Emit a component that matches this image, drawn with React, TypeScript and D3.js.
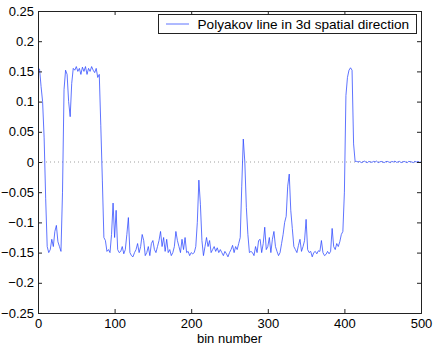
import React, { useEffect, useRef } from "react";
import * as d3 from "d3";

// polyakov line value, sampled every 2 bins (bin 0, 2, 4 ... 500)
const binStep = 2;
const polyakov = [
  0.155, 0.154, 0.125, 0.1, 0.04, -0.06, -0.14, -0.15, -0.145, -0.128,
  -0.14, -0.115, -0.105, -0.132, -0.14, -0.148, -0.05, 0.12, 0.152, 0.145,
  0.1, 0.075, 0.13, 0.155, 0.152, 0.158, 0.15, 0.155, 0.145, 0.157,
  0.15, 0.158, 0.145, 0.155, 0.15, 0.158, 0.152, 0.148, 0.155, 0.14,
  0.145, 0.06, -0.03, -0.125, -0.13, -0.148, -0.145, -0.15, -0.12, -0.068,
  -0.125, -0.08, -0.145, -0.15, -0.148, -0.14, -0.152, -0.145, -0.12, -0.092,
  -0.15, -0.155, -0.157, -0.15, -0.145, -0.135, -0.15, -0.14, -0.12, -0.13,
  -0.155, -0.15, -0.14, -0.155, -0.135, -0.13, -0.145, -0.15, -0.14, -0.13,
  -0.115, -0.14, -0.125, -0.148, -0.128, -0.15, -0.145, -0.155, -0.15, -0.14,
  -0.115, -0.13, -0.14, -0.15, -0.128, -0.145, -0.125, -0.15, -0.148, -0.155,
  -0.15, -0.152, -0.15, -0.14, -0.1, -0.03, -0.07, -0.13, -0.155, -0.14,
  -0.125, -0.14, -0.13, -0.15, -0.145, -0.14, -0.148, -0.142, -0.15, -0.145,
  -0.15, -0.155, -0.148, -0.152, -0.157, -0.15, -0.145, -0.138, -0.15, -0.14,
  -0.145, -0.135, -0.125, -0.04, 0.038, 0.0, -0.075, -0.12, -0.15, -0.148,
  -0.15, -0.155, -0.14, -0.15, -0.13, -0.128, -0.15, -0.135, -0.108, -0.145,
  -0.14, -0.125, -0.15, -0.128, -0.115, -0.14, -0.148, -0.155, -0.15, -0.135,
  -0.12, -0.1, -0.09, -0.04, -0.02, -0.08, -0.11, -0.14, -0.145, -0.15,
  -0.138, -0.128, -0.148, -0.14, -0.13, -0.095, -0.145, -0.15, -0.148, -0.157,
  -0.15, -0.148, -0.152, -0.147, -0.148, -0.13, -0.15, -0.155, -0.153, -0.148,
  -0.152, -0.148, -0.11, -0.14, -0.145, -0.135, -0.14, -0.132, -0.12, -0.115,
  -0.05, 0.11, 0.14, 0.152, 0.156, 0.152, 0.03, 0.001, 0.001, 0.0,
  0.001, -0.001, 0.0, 0.0015, 0.0, -0.001, 0.001, 0.0, -0.0005, 0.001,
  0.0, 0.0015, -0.001, 0.0, 0.001, 0.0, -0.001, 0.0005, 0.001, 0.0,
  -0.001, 0.001, 0.0, 0.0015, -0.0005, 0.0, 0.001, -0.001, 0.0, 0.001,
  0.0, -0.001, 0.001, 0.0005, 0.0, -0.001, 0.001, 0.0, 0.001, -0.0005,
  0.0
];

const xTicks = [0, 100, 200, 300, 400, 500];
const yTicks = [-0.25, -0.2, -0.15, -0.1, -0.05, 0, 0.05, 0.1, 0.15, 0.2, 0.25];
const legendLabel = "Polyakov line in 3d spatial direction";
const xLabel = "bin number";

const W = 436, H = 348;
const M = { left: 38, right: 15, top: 11, bottom: 35 };
const FONT = "'Liberation Sans', Arial, Helvetica, sans-serif";

export default function App() {
  const ref = useRef<SVGSVGElement>(null);

  useEffect(() => {
    const svg = d3.select(ref.current);
    svg.selectAll("*").remove();

    const x = d3.scaleLinear().domain([0, 500]).range([M.left, W - M.right]);
    const y = d3.scaleLinear().domain([-0.25, 0.25]).range([H - M.bottom, M.top]);
    const fmt = d3.format("~g");

    svg.append("rect").attr("width", W).attr("height", H).attr("fill", "#fff");

    // zero line
    svg.append("line")
      .attr("x1", x(0)).attr("x2", x(500))
      .attr("y1", y(0)).attr("y2", y(0))
      .attr("stroke", "#888").attr("stroke-width", 0.8)
      .attr("stroke-dasharray", "1,3");

    const line = d3.line<number>()
      .x((d, i) => x(i * binStep))
      .y((d) => y(d));

    svg.append("path")
      .datum(polyakov)
      .attr("d", line)
      .attr("fill", "none")
      .attr("stroke", "#2a46ff")
      .attr("stroke-width", 0.75);

    // axes, ticks inward on all four sides
    const axes = svg.append("g").attr("font-family", FONT);
    axes.append("g")
      .attr("transform", `translate(${M.left},0)`)
      .call(d3.axisLeft(y).tickValues(yTicks).tickFormat((d) => fmt(d as number)).tickSize(-4).tickPadding(4));
    axes.append("g")
      .attr("transform", `translate(${W - M.right},0)`)
      .call(d3.axisRight(y).tickValues(yTicks).tickFormat(() => "").tickSize(-4));
    axes.append("g")
      .attr("transform", `translate(0,${H - M.bottom})`)
      .call(d3.axisBottom(x).tickValues(xTicks).tickFormat((d) => fmt(d as number)).tickSize(-4).tickPadding(6));
    axes.append("g")
      .attr("transform", `translate(0,${M.top})`)
      .call(d3.axisTop(x).tickValues(xTicks).tickFormat(() => "").tickSize(-4));
    axes.selectAll(".domain").attr("stroke", "#222").attr("stroke-width", 1);
    axes.selectAll(".tick line").attr("stroke", "#222");
    axes.selectAll(".tick text").attr("font-size", 13).attr("fill", "#000");

    svg.append("text")
      .attr("x", (x(0) + x(500)) / 2).attr("y", 343)
      .attr("text-anchor", "middle")
      .attr("font-family", FONT).attr("font-size", 13)
      .text(xLabel);

    // legend
    const lg = svg.append("g");
    lg.append("rect")
      .attr("x", 158.5).attr("y", 14.5).attr("width", 258).attr("height", 19)
      .attr("fill", "#fff").attr("stroke", "#222");
    lg.append("line")
      .attr("x1", 166).attr("x2", 189).attr("y1", 24).attr("y2", 24)
      .attr("stroke", "#2a46ff").attr("stroke-width", 0.75);
    lg.append("text")
      .attr("x", 197.5).attr("y", 29)
      .attr("font-family", FONT).attr("font-size", 13.6)
      .text(legendLabel);
  }, []);

  return (
    <svg ref={ref} width={W} height={H}
      style={{ position: "absolute", left: 0, top: 0, display: "block" }} />
  );
}
